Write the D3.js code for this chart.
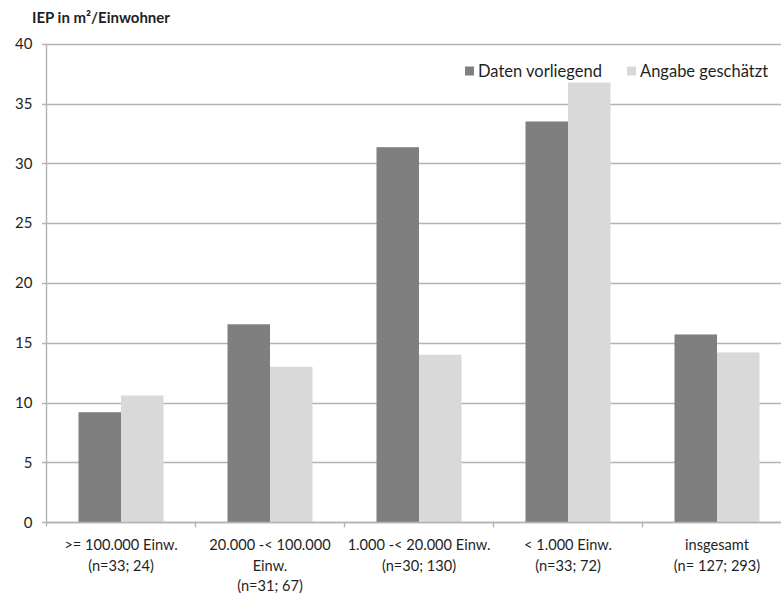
<!DOCTYPE html>
<html>
<head>
<meta charset="utf-8">
<script src="https://cdn.jsdelivr.net/npm/d3@7"></script>
<style>
  html, body { margin: 0; padding: 0; background: #fff; }
  svg { display: block; font-family: Lato, "Open Sans", sans-serif; }
</style>
</head>
<body>
<svg id="chart" width="781" height="594"></svg>
<script>
// Category labels (one entry per line of the axis label)
const categories = [
  [">= 100.000 Einw.", "(n=33; 24)"],
  ["20.000 -< 100.000", "Einw.", "(n=31; 67)"],
  ["1.000 -< 20.000 Einw.", "(n=30; 130)"],
  ["< 1.000 Einw.", "(n=33; 72)"],
  ["insgesamt", "(n= 127; 293)"]
];
const seriesNames = ["Daten vorliegend", "Angabe geschätzt"];
const datenVorliegend = [9.2, 16.55, 31.35, 33.5, 15.7];
const angabeGeschaetzt = [10.6, 13.0, 14.0, 36.75, 14.2];
const yTicks = [0, 5, 10, 15, 20, 25, 30, 35, 40];
const yTitle = "IEP in m²/Einwohner";

const colors = { "Daten vorliegend": "#7f7f7f", "Angabe geschätzt": "#d9d9d9" };
const textColor = "#1f1f1f";
const gridColor = "#b3b3b3";

const svg = d3.select("#chart");
const plotLeft = 46.5, plotBottom = 522.3, plotTop = 43.7;
const bandW = 149;

const keys = categories.map((c, i) => "c" + i);
const x = d3.scaleBand().domain(keys).range([plotLeft, plotLeft + bandW * keys.length]).padding(0);
const x1 = d3.scaleBand().domain(seriesNames).range([32, 117]).padding(0);
const y = d3.scaleLinear().domain([0, 40]).range([plotBottom, plotTop]);

const rows = keys.map((k, i) => ({
  key: k,
  values: [
    { name: seriesNames[0], value: datenVorliegend[i] },
    { name: seriesNames[1], value: angabeGeschaetzt[i] }
  ]
}));

// Horizontal gridlines
svg.append("g")
  .selectAll("line")
  .data(yTicks)
  .join("line")
  .attr("x1", plotLeft - 4.5)
  .attr("x2", 781)
  .attr("y1", d => Math.round(y(d)) + 0.5)
  .attr("y2", d => Math.round(y(d)) + 0.5)
  .attr("stroke", gridColor)
  .attr("stroke-width", 1.4);

// Bars
svg.append("g")
  .selectAll("g")
  .data(rows)
  .join("g")
  .attr("transform", d => `translate(${x(d.key)},0)`)
  .selectAll("rect")
  .data(d => d.values)
  .join("rect")
  .attr("x", d => x1(d.name))
  .attr("y", d => y(d.value))
  .attr("width", x1.bandwidth())
  .attr("height", d => y(0) - y(d.value))
  .attr("fill", d => colors[d.name]);

// Y axis
const yAxis = d3.axisLeft(y).tickValues(yTicks).tickSize(0).tickPadding(14);
const yg = svg.append("g").attr("transform", `translate(${plotLeft},0)`).call(yAxis);
yg.select(".domain").remove();
yg.selectAll("text")
  .attr("fill", textColor)
  .style("font-size", "15px")
  .style("font-family", "Lato, 'Open Sans', sans-serif");
svg.append("line")
  .attr("x1", plotLeft).attr("x2", plotLeft)
  .attr("y1", plotTop).attr("y2", plotBottom + 4)
  .attr("stroke", gridColor).attr("stroke-width", 1.4);

// X axis baseline and category separators
svg.append("line")
  .attr("x1", plotLeft).attr("x2", 781)
  .attr("y1", Math.round(plotBottom) + 0.5).attr("y2", Math.round(plotBottom) + 0.5)
  .attr("stroke", gridColor).attr("stroke-width", 1.4);
svg.append("g")
  .selectAll("line")
  .data(keys.slice(1))
  .join("line")
  .attr("x1", d => x(d)).attr("x2", d => x(d))
  .attr("y1", plotBottom).attr("y2", plotBottom + 5)
  .attr("stroke", gridColor).attr("stroke-width", 1.4);

// Category labels
const labels = svg.append("g")
  .selectAll("text")
  .data(keys)
  .join("text")
  .attr("text-anchor", "middle")
  .attr("fill", textColor)
  .style("font-size", "14.6px")
  .attr("transform", d => `translate(${x(d) + x.bandwidth() / 2},550)`);
labels.selectAll("tspan")
  .data((d, i) => categories[i])
  .join("tspan")
  .attr("x", 0)
  .attr("dy", (d, j) => j === 0 ? 0 : 20.7)
  .text(d => d);

// Axis title
svg.append("text")
  .attr("x", 32).attr("y", 23)
  .attr("fill", textColor)
  .style("font-size", "15px")
  .style("font-weight", "bold")
  .text(yTitle);

// Legend
const legendPos = [465, 627];
const legend = svg.append("g")
  .selectAll("g")
  .data(seriesNames)
  .join("g")
  .attr("transform", (d, i) => `translate(${legendPos[i]},66.5)`);
legend.append("rect")
  .attr("width", 9).attr("height", 9)
  .attr("fill", d => colors[d]);
legend.append("text")
  .attr("x", 13).attr("y", 10)
  .attr("fill", textColor)
  .style("font-size", "16.5px")
  .text(d => d);
</script>
</body>
</html>
